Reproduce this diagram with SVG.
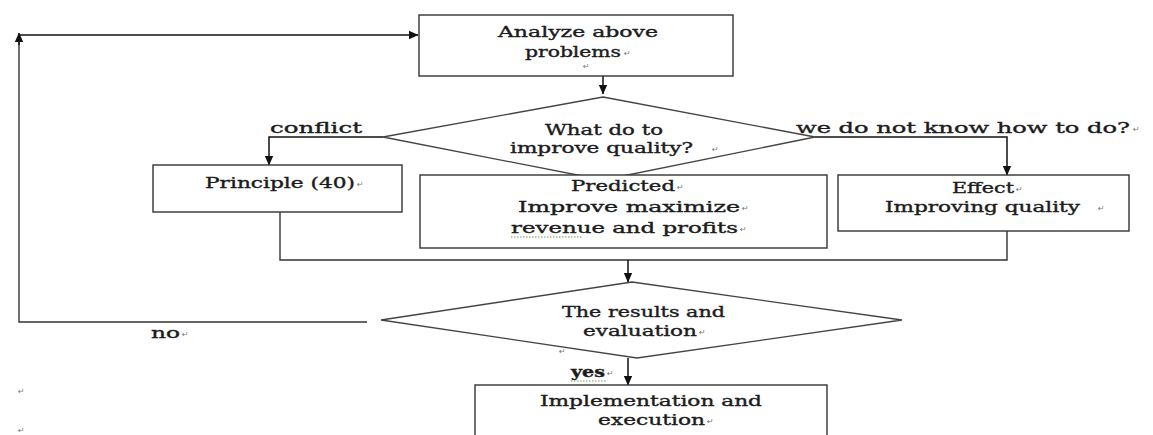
<svg xmlns="http://www.w3.org/2000/svg" width="1153" height="435" viewBox="0 0 1153 435">
<defs>
<marker id="ah" markerWidth="10" markerHeight="10" refX="9" refY="5" orient="auto" markerUnits="userSpaceOnUse">
<path d="M0,0.8 L9.5,5 L0,9.2 Z" fill="#111"/>
</marker>
</defs>
<style>
.box{fill:#fff;stroke:#333;stroke-width:1.4}
.dia{fill:#fff;stroke:#444;stroke-width:1.3}
.ln{fill:none;stroke:#333;stroke-width:1.4}
.ar{fill:none;stroke:#111;stroke-width:1.5;marker-end:url(#ah)}
.t{font-family:"DejaVu Serif","Liberation Serif",serif;font-size:14px;fill:#1c1c1c;stroke:#1c1c1c;stroke-width:0.35}
.lb{font-family:"DejaVu Serif","Liberation Serif",serif;font-size:15px;fill:#1c1c1c;stroke:#1c1c1c;stroke-width:0.35}
.pm{font-family:"DejaVu Sans","Liberation Sans",sans-serif;font-size:8px;fill:#777}
.sq{fill:none;stroke:#6a9a4a;stroke-width:1.2;stroke-dasharray:1.5 1.5}
</style>
<rect width="1153" height="435" fill="#fff"/>

<g id="connectors">
<path class="ln" d="M367,322 H19 V40"/>
<path class="ar" d="M19,45 V33"/>
<path class="ar" d="M19,35 H418"/>
<path class="ar" d="M603,64 V94"/>
<path class="ar" d="M383,137 H269 V165"/>
<path class="ar" d="M815,137 H1007 V175"/>
<path class="ar" d="M603,158 V175"/>
<path class="ln" d="M280,212 V260 H1007 V231"/>
<path class="ar" d="M628,260 V282"/>
<path class="ar" d="M628,358 V385"/>
</g>

<g id="n-analyze">
<rect class="box" x="419" y="15" width="314" height="61"/>
<text class="t" x="498" y="37" textLength="160" lengthAdjust="spacingAndGlyphs">Analyze above</text>
<text class="t" x="525" y="57" textLength="96" lengthAdjust="spacingAndGlyphs">problems</text>
<text class="pm" x="624" y="56">↵</text>
<text class="pm" x="583" y="69">↵</text>
</g>

<g id="n-decision1">
<polygon class="dia" points="603,97 815,137 603,180 383,137"/>
<text class="t" x="545" y="135" textLength="118" lengthAdjust="spacingAndGlyphs">What do to</text>
<text class="t" x="510" y="153" textLength="183" lengthAdjust="spacingAndGlyphs">improve quality?</text>
<text class="pm" x="712" y="152">↵</text>
</g>

<g id="labels">
<text class="lb" x="270" y="133" textLength="92" lengthAdjust="spacingAndGlyphs">conflict</text>
<text class="lb" x="796" y="133" textLength="334" lengthAdjust="spacingAndGlyphs">we do not know how to do?</text>
<text class="pm" x="1133" y="132">↵</text>
<text class="t" x="151" y="338" textLength="29" lengthAdjust="spacingAndGlyphs">no</text>
<text class="pm" x="182" y="337">↵</text>
<text class="t" x="571" y="377" textLength="34" lengthAdjust="spacingAndGlyphs" font-weight="bold">yes</text>
<path class="sq" d="M571,381 H606"/>
<text class="pm" x="607" y="376">↵</text>
<text class="pm" x="559" y="354">↵</text>
<text class="pm" x="18" y="394">↵</text>
<text class="pm" x="18" y="433">↵</text>
</g>

<g id="n-principle">
<rect class="box" x="153" y="165" width="249" height="47"/>
<text class="t" x="205" y="188" textLength="150" lengthAdjust="spacingAndGlyphs">Principle (40)</text>
<text class="pm" x="357" y="187">↵</text>
</g>

<g id="n-predicted">
<rect class="box" x="420" y="175" width="407" height="73"/>
<text class="t" x="571" y="191" textLength="104" lengthAdjust="spacingAndGlyphs">Predicted</text>
<text class="pm" x="677" y="190">↵</text>
<text class="t" x="518" y="212" textLength="222" lengthAdjust="spacingAndGlyphs">Improve maximize</text>
<text class="pm" x="742" y="211">↵</text>
<text class="t" x="511" y="233" textLength="227" lengthAdjust="spacingAndGlyphs">revenue and profits</text>
<path class="sq" d="M511,237 H583"/>
<text class="pm" x="740" y="232">↵</text>
</g>

<g id="n-effect">
<rect class="box" x="838" y="175" width="291" height="56"/>
<text class="t" x="952" y="193" textLength="62" lengthAdjust="spacingAndGlyphs">Effect</text>
<text class="pm" x="1016" y="192">↵</text>
<text class="t" x="885" y="212" textLength="195" lengthAdjust="spacingAndGlyphs">Improving quality</text>
<text class="pm" x="1098" y="211">↵</text>
</g>

<g id="n-decision2">
<polygon class="dia" points="632,282 902,320 637,358 381,320"/>
<text class="t" x="562" y="317" textLength="163" lengthAdjust="spacingAndGlyphs">The results and</text>
<text class="t" x="583" y="336" textLength="114" lengthAdjust="spacingAndGlyphs">evaluation</text>
<text class="pm" x="699" y="335">↵</text>
</g>

<g id="n-implement">
<rect class="box" x="475" y="385" width="352" height="60"/>
<text class="t" x="540" y="406" textLength="222" lengthAdjust="spacingAndGlyphs">Implementation and</text>
<text class="t" x="598" y="425" textLength="107" lengthAdjust="spacingAndGlyphs">execution</text>
<text class="pm" x="707" y="424">↵</text>
</g>
</svg>
